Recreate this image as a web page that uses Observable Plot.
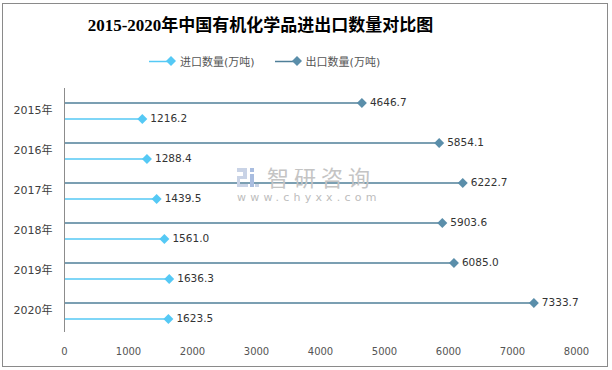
<!DOCTYPE html>
<html>
<head>
<meta charset="utf-8">
<script src="https://cdn.jsdelivr.net/npm/d3@7"></script>
<script src="https://cdn.jsdelivr.net/npm/@observablehq/plot@0.6"></script>
<style>
  body { margin: 0; background: #fff; }
  #wrap { position: relative; width: 612px; height: 370px; overflow: hidden; font-family: "DejaVu Sans", "Noto Sans CJK SC", sans-serif; }
  #frame { position: absolute; left: 2px; top: 3px; border: 1px solid #8a8a8a; box-sizing: border-box; width: 606px; height: 364px; }
  #title { position: absolute; left: 0; width: 521px; top: 15px; line-height: 22px; text-align: center; font-family: "Liberation Serif", "Noto Sans CJK SC", serif; font-weight: bold; font-size: 17px; color: #000; }
  #legend { position: absolute; left: 149px; top: 53px; height: 16px; display: flex; align-items: center; font-size: 11px; color: #555; font-family: "DejaVu Sans", "Noto Sans CJK SC", sans-serif; }
  .item { display: flex; align-items: center; margin-right: 20px; }
  .item svg { margin-right: 3px; }
  #plot { position: absolute; left: 0; top: 80px; }
  #wm { position: absolute; left: 236px; top: 164px; color: #c4c4c4; pointer-events: none; }
  #wm .big { position: absolute; left: 31px; top: -1px; font-size: 22px; letter-spacing: 5px; white-space: nowrap; font-family: "Noto Sans CJK SC", sans-serif; line-height: 26px; }
  #wm .small { position: absolute; left: 1px; top: 27px; font-size: 11px; letter-spacing: 4.2px; white-space: nowrap; color: #bdbdbd; }
</style>
</head>
<body>
<div id="wrap">
  <div id="frame"></div>
  <div id="title"></div>
  <div id="legend"></div>
  <div id="plot"></div>
  <div id="wm">
    <svg width="26" height="24" style="position:absolute;left:0;top:2px">
      <rect x="1" y="2" width="10" height="4" fill="#c9d3e6"/>
      <rect x="7" y="2" width="4" height="11" fill="#c9d3e6"/>
      <rect x="1" y="10" width="10" height="3" fill="#c9d3e6"/>
      <rect x="1" y="10" width="3" height="11" fill="#c9d3e6"/>
      <rect x="1" y="18" width="11" height="3" fill="#c9d3e6"/>
      <rect x="14" y="2" width="4" height="4" fill="#a9bde0"/>
      <rect x="14" y="8" width="4" height="13" fill="#a9bde0"/>
      <rect x="19" y="18" width="4" height="3" fill="#c9d3e6"/>
    </svg>
    <div class="big">智研咨询</div>
    <div class="small">www.chyxx.com</div>
  </div>
</div>
<script>
const title = "2015-2020年中国有机化学品进出口数量对比图";
const years = ["2015年", "2016年", "2017年", "2018年", "2019年", "2020年"];
const importValues = [1216.2, 1288.4, 1439.5, 1561.0, 1636.3, 1623.5];
const exportValues = [4646.7, 5854.1, 6222.7, 5903.6, 6085.0, 7333.7];
const seriesNames = ["进口数量(万吨)", "出口数量(万吨)"];
const xTicks = [0, 1000, 2000, 3000, 4000, 5000, 6000, 7000, 8000];

const importColor = "#55c9f5";
const exportColor = "#5a8eaa";
const exportLine = "#4f7f98";

document.getElementById("title").textContent = title;

const legend = document.getElementById("legend");
[[seriesNames[0], importColor, importColor], [seriesNames[1], exportLine, exportColor]].forEach(([name, lc, mc]) => {
  const it = document.createElement("div");
  it.className = "item";
  it.innerHTML = `<svg width="28" height="12"><line x1="0" x2="22" y1="6.5" y2="6.5" stroke="${lc}" stroke-width="1.5"/><path d="M22,1 L27,6 L22,11 L17,6 Z" fill="${mc}"/></svg><span>${name}</span>`;
  legend.appendChild(it);
});

const importData = years.map((y, i) => ({year: y, value: importValues[i]}));
const exportData = years.map((y, i) => ({year: y, value: exportValues[i]}));
const fmt = d3.format(".1f");

const chart = Plot.plot({
  width: 612,
  height: 285,
  marginTop: 8,
  marginBottom: 33,
  marginLeft: 64,
  marginRight: 36,
  style: {fontFamily: "'DejaVu Sans', 'Noto Sans CJK SC', sans-serif", fontSize: "11px", background: "transparent", overflow: "visible"},
  x: {domain: [0, 8000]},
  y: {type: "band", domain: years, padding: 0},
  marks: [
    Plot.axisX({ticks: xTicks, tickSize: 0, tickPadding: 15, fontSize: 10, color: "#555", label: null, tickFormat: d => String(d)}),
    Plot.axisY({tickSize: 0, tickPadding: 12, fontSize: 11, color: "#404040", label: null}),
    Plot.ruleY(exportData, {y: "year", x1: 0, x2: "value", dy: -7.5, stroke: exportLine, strokeWidth: 1.5}),
    Plot.ruleY(importData, {y: "year", x1: 0, x2: "value", dy: 8.5, stroke: importColor, strokeWidth: 1.5}),
    Plot.ruleX([0], {stroke: "#8c8c8c", strokeWidth: 1}),
    Plot.dot(exportData, {x: "value", y: "year", dy: -7.5, symbol: "diamond2", r: 4.5, fill: exportColor, stroke: "none"}),
    Plot.dot(importData, {x: "value", y: "year", dy: 8.5, symbol: "diamond2", r: 4.5, fill: importColor, stroke: "none"}),
    Plot.text(exportData, {x: "value", y: "year", dy: -7.5, dx: 8, text: d => fmt(d.value), textAnchor: "start", fontSize: 10.5, fill: "#333"}),
    Plot.text(importData, {x: "value", y: "year", dy: 8.5, dx: 8, text: d => fmt(d.value), textAnchor: "start", fontSize: 10.5, fill: "#333"})
  ]
});
document.getElementById("plot").appendChild(chart);
</script>
</body>
</html>
